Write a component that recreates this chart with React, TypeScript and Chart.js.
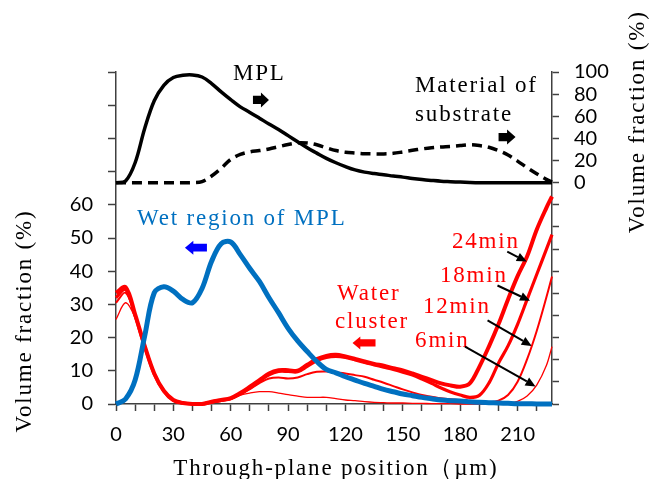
import React, { useEffect, useRef } from 'react';
import { Chart, registerables } from 'chart.js';

Chart.register(...registerables);

// Through-plane position (µm)
const POSITIONS = [0, 5, 10, 15, 20, 25, 30, 35, 40, 45, 50, 55, 60, 65, 70, 75, 80, 85, 90, 95, 100, 105, 110, 115, 120, 125, 130, 135, 140, 145, 150, 155, 160, 165, 170, 175, 180, 185, 190, 195, 200, 205, 210, 215, 220, 225, 228];

// Right axis (%): MPL and material of substrate
const MPL = [0, 1.5, 18, 49, 74, 88, 95, 97, 97.3, 95.5, 89.5, 82, 75, 68.5, 63.5, 58.3, 53, 48, 42.5, 37, 31.5, 26.7, 22, 18, 14.5, 11.5, 9.5, 8.2, 7.2, 6, 5, 3.8, 2.8, 2, 1.3, 0.9, 0.5, 0.2, 0, 0, 0, 0, 0, 0, 0, 0, 0];
const SUBSTRATE = [0, 0, 0, 0, 0, 0, 0, 0, 0, 1, 6, 13, 21, 25.5, 27.8, 29, 30.5, 32.5, 34.5, 36, 35.8, 34.2, 31.5, 29, 27.5, 26.8, 26.2, 26, 26, 26.5, 27.8, 29.2, 30.5, 31.5, 32.2, 32.7, 33.5, 34.2, 33.5, 32, 29, 25, 19.5, 13.5, 8, 3, 0.5];

// Left axis (%): wet region of MPL and water clusters
const WET_MPL = [0, 1.5, 7.2, 20.5, 33.5, 35.3, 34, 31.5, 30.5, 34.8, 43, 48.3, 48.8, 45, 40.8, 36.9, 32, 27.5, 22.8, 19, 15.8, 12.8, 10.4, 9.4, 8.2, 7.2, 6.2, 5.3, 4.4, 3.7, 3, 2.5, 2, 1.6, 1.2, 1, 0.9, 0.7, 0.5, 0.4, 0.3, 0.2, 0.1, 0.1, 0, 0, 0];
const WATER_24 = [33.5, 35.2, 27, 17.5, 9.2, 4, 1.2, 0.3, 0, 0, 0.7, 1.2, 1.8, 3.3, 5.2, 7.2, 9.2, 10.2, 10.2, 10, 11.8, 13.5, 14.5, 14.8, 14.3, 13.6, 12.8, 12.1, 11.5, 10.8, 10.1, 9.2, 8.2, 7.2, 6.2, 5.6, 5.2, 6.2, 11.2, 17.3, 24, 31.5, 38.5, 44.5, 52.5, 59, 62.5];
const WATER_18 = [32, 34.5, 26.5, 17.3, 9, 3.9, 1.1, 0.3, 0, 0, 0.6, 1.1, 1.6, 3, 4.8, 6.8, 8.8, 9.8, 9.8, 9.7, 11.3, 13, 14, 14.3, 14, 13.3, 12.5, 11.8, 11.1, 10.4, 9.6, 8.7, 7.5, 6.2, 4.8, 3.6, 2.7, 2, 2.6, 6.3, 12.3, 17.5, 24, 31.5, 39, 46.5, 51];
const WATER_12 = [30.5, 33.5, 26.5, 17.3, 9, 3.9, 1.1, 0.3, 0, 0, 0.5, 1, 1.5, 2.8, 4.5, 6.3, 7.7, 8, 7.7, 8, 9, 9.7, 9.8, 9.5, 9.2, 8.7, 8.2, 7.3, 6.4, 5.4, 4.4, 3.5, 2.7, 2.2, 1.7, 1.4, 1.2, 0.9, 0.6, 0.5, 1, 2.7, 6.7, 13.5, 22, 32, 38.4];
const WATER_6 = [25.5, 30.5, 26, 17, 9, 3.9, 1.1, 0.3, 0, 0, 0.3, 0.8, 1.7, 2.7, 3.3, 3.7, 3.7, 3.3, 2.8, 2.4, 2, 2, 2, 1.6, 1.2, 1, 0.7, 0.5, 0.4, 0.3, 0.3, 0.2, 0.2, 0.1, 0.1, 0.1, 0, 0, 0, 0, 0, 0.2, 0.8, 2.4, 5.7, 11.5, 17.3];

// Axis ranges / tick labels
const X_MAX = 228;
const X_LABEL_STEP = 30;
const LEFT_LABEL_MAX = 60;
const RIGHT_LABEL_MIN = 0;

const AXIS_TITLE_LEFT = 'Volume fraction (%)';
const AXIS_TITLE_RIGHT = 'Volume fraction (%)';
const AXIS_TITLE_X = 'Through-plane position（µm)';

// Annotations, positioned in data units (x: µm, y: left-axis %)
const TEXT_NOTES = [
  { text: 'MPL', x: 61.2, y: 97.6, color: '#000000' },
  { text: 'Material of', x: 156.4, y: 94.1, color: '#000000' },
  { text: 'substrate', x: 156.4, y: 85.1, color: '#000000' },
  { text: 'Wet region of MPL', x: 11, y: 53.9, color: '#0070C0' },
  { text: 'Water', x: 115.6, y: 31.3, color: '#FF0000' },
  { text: 'cluster', x: 114.5, y: 22.9, color: '#FF0000' },
  { text: '24min', x: 175.7, y: 47, color: '#FF0000' },
  { text: '18min', x: 169.4, y: 36.7, color: '#FF0000' },
  { text: '12min', x: 160.5, y: 27.4, color: '#FF0000' },
  { text: '6min', x: 156.4, y: 17.2, color: '#FF0000' },
];

const BLOCK_ARROWS = [
  { x: 75.8, y: 91.6, dir: 'right', color: '#000000', w: 16, h: 15 },
  { x: 204.5, y: 80.4, dir: 'right', color: '#000000', w: 17, h: 15 },
  { x: 41.8, y: 47.1, dir: 'left', color: '#0000FF', w: 22, h: 14 },
  { x: 129.7, y: 18.4, dir: 'left', color: '#FF0000', w: 23, h: 13 },
];

const POINTERS = [
  { x0: 204.6, y0: 45.9, x1: 214.8, y1: 42.9 },
  { x0: 199.5, y0: 35.7, x1: 216.5, y1: 31.1 },
  { x0: 194.3, y0: 25.2, x1: 217.4, y1: 17.5 },
  { x0: 182.5, y0: 17.3, x1: 219.4, y1: 5.3 },
];

const SERIF = '"Liberation Serif", "Times New Roman", serif';
const SANS = 'Lato, "Open Sans", sans-serif';
const AXIS_COLOR = '#404040';

const toPoints = (arr: number[]) => POSITIONS.map((x, i) => ({ x, y: arr[i] }));

function serifText(ctx: CanvasRenderingContext2D, text: string, x: number, y: number, color: string, align: CanvasTextAlign = 'left', rot = 0) {
  ctx.save();
  ctx.font = `23px ${SERIF}`;
  (ctx as any).letterSpacing = '1.8px';
  ctx.fillStyle = color;
  ctx.textAlign = align;
  ctx.textBaseline = 'alphabetic';
  ctx.translate(x, y);
  if (rot) ctx.rotate(rot);
  ctx.fillText(text, 0, 0);
  ctx.restore();
}

function blockArrow(ctx: CanvasRenderingContext2D, cx: number, cy: number, w: number, h: number, dir: string, color: string) {
  const sh = h * 0.55;
  const hl = Math.min(w * 0.5, h * 0.6);
  const s = dir === 'right' ? 1 : -1;
  const tail = cx - (s * w) / 2;
  const tip = cx + (s * w) / 2;
  const neck = tip - s * hl;
  ctx.save();
  ctx.fillStyle = color;
  ctx.beginPath();
  ctx.moveTo(tail, cy - sh / 2);
  ctx.lineTo(neck, cy - sh / 2);
  ctx.lineTo(neck, cy - h / 2);
  ctx.lineTo(tip, cy);
  ctx.lineTo(neck, cy + h / 2);
  ctx.lineTo(neck, cy + sh / 2);
  ctx.lineTo(tail, cy + sh / 2);
  ctx.closePath();
  ctx.fill();
  ctx.restore();
}

function pointer(ctx: CanvasRenderingContext2D, x0: number, y0: number, x1: number, y1: number) {
  const ang = Math.atan2(y1 - y0, x1 - x0);
  const hl = 10;
  const hw = 4.5;
  const bx = x1 - hl * Math.cos(ang);
  const by = y1 - hl * Math.sin(ang);
  ctx.save();
  ctx.strokeStyle = '#000';
  ctx.fillStyle = '#000';
  ctx.lineWidth = 2;
  ctx.beginPath();
  ctx.moveTo(x0, y0);
  ctx.lineTo(bx, by);
  ctx.stroke();
  ctx.beginPath();
  ctx.moveTo(x1, y1);
  ctx.lineTo(bx + hw * Math.sin(ang), by - hw * Math.cos(ang));
  ctx.lineTo(bx - hw * Math.sin(ang), by + hw * Math.cos(ang));
  ctx.closePath();
  ctx.fill();
  ctx.restore();
}

const annotationPlugin = {
  id: 'annotations',
  afterDraw(chart: any) {
    const ctx: CanvasRenderingContext2D = chart.ctx;
    const xs = chart.scales.x;
    const ys = chart.scales.y;
    const y2 = chart.scales.y2;
    const area = chart.chartArea;
    const px = (v: number) => xs.getPixelForValue(v);
    const py = (v: number) => ys.getPixelForValue(v);

    TEXT_NOTES.forEach((n) => serifText(ctx, n.text, px(n.x), py(n.y), n.color));
    BLOCK_ARROWS.forEach((a) => blockArrow(ctx, px(a.x), py(a.y), a.w, a.h, a.dir, a.color));
    POINTERS.forEach((p) => pointer(ctx, px(p.x0), py(p.y0), px(p.x1), py(p.y1)));

    // axis titles
    serifText(ctx, AXIS_TITLE_LEFT, area.left - 85, py(25), '#000', 'center', -Math.PI / 2);
    serifText(ctx, AXIS_TITLE_RIGHT, area.right + 92, y2.getPixelForValue(55), '#000', 'center', -Math.PI / 2);
    serifText(ctx, AXIS_TITLE_X, px(115), area.bottom + 71, '#000', 'center');
  },
};

export default function App() {
  const ref = useRef<HTMLCanvasElement | null>(null);

  useEffect(() => {
    if (!ref.current) return;
    const line = (label: string, data: number[], color: string, width: number, axis: string, dash: number[] = []) => ({
      label,
      data: toPoints(data),
      borderColor: color,
      backgroundColor: color,
      borderWidth: width,
      borderDash: dash,
      borderCapStyle: 'butt' as const,
      borderJoinStyle: 'round' as const,
      pointRadius: 0,
      tension: 0.35,
      yAxisID: axis,
      clip: false as const,
      fill: false,
    });

    const tickFont = { family: SANS, size: 20 };
    const grid = { display: true, drawOnChartArea: false, drawTicks: true, tickLength: 7, tickColor: AXIS_COLOR, tickWidth: 1.5 };
    const border = { display: true, color: AXIS_COLOR, width: 1.5 };

    const chart = new Chart(ref.current, {
      type: 'line',
      data: {
        datasets: [
          line('MPL', MPL, '#000000', 3.5, 'y2'),
          line('Material of substrate', SUBSTRATE, '#000000', 3.5, 'y2', [10, 6]),
          line('Wet region of MPL', WET_MPL, '#0070C0', 5, 'y'),
          line('24min', WATER_24, '#FF0000', 4, 'y'),
          line('18min', WATER_18, '#FF0000', 3.2, 'y'),
          line('12min', WATER_12, '#FF0000', 2, 'y'),
          line('6min', WATER_6, '#FF0000', 1.3, 'y'),
        ],
      },
      options: {
        animation: false,
        responsive: false,
        maintainAspectRatio: false,
        layout: { padding: { top: 72, left: 0, right: 0, bottom: 0 } },
        plugins: { legend: { display: false }, tooltip: { enabled: false }, title: { display: false } },
        scales: {
          x: {
            type: 'linear',
            position: 'bottom',
            min: 0,
            max: X_MAX,
            grid: { ...grid },
            border: { ...border },
            afterFit: (s: any) => { s.height = 75; },
            ticks: {
              stepSize: 10,
              includeBounds: false,
              autoSkip: false,
              maxRotation: 0,
              minRotation: 0,
              padding: 12,
              color: '#000',
              font: tickFont,
              callback: (v: any) => (Number(v) % X_LABEL_STEP === 0 ? String(v) : ''),
            },
          },
          y: {
            type: 'linear',
            position: 'left',
            min: 0,
            max: 100,
            grid: { ...grid, tickLength: 8 },
            border: { ...border },
            afterFit: (s: any) => { s.width = 116; },
            ticks: {
              stepSize: 10,
              autoSkip: false,
              padding: 15,
              color: '#000',
              font: tickFont,
              callback: (v: any) => (Number(v) <= LEFT_LABEL_MAX ? String(v) : ''),
            },
          },
          y2: {
            type: 'linear',
            position: 'right',
            min: -200,
            max: 100,
            grid: { ...grid },
            border: { ...border },
            afterFit: (s: any) => { s.width = 97; },
            ticks: {
              stepSize: 20,
              autoSkip: false,
              padding: 15,
              color: '#000',
              font: tickFont,
              callback: (v: any) => (Number(v) >= RIGHT_LABEL_MIN ? String(v) : ''),
            },
          },
        },
      },
      plugins: [annotationPlugin],
    } as any);

    return () => chart.destroy();
  }, []);

  return (
    <div style={{ position: 'absolute', left: 0, top: 0, width: 649, height: 479, background: '#fff' }}>
      <canvas ref={ref} width={649} height={479} style={{ width: 649, height: 479, display: 'block' }} />
    </div>
  );
}
